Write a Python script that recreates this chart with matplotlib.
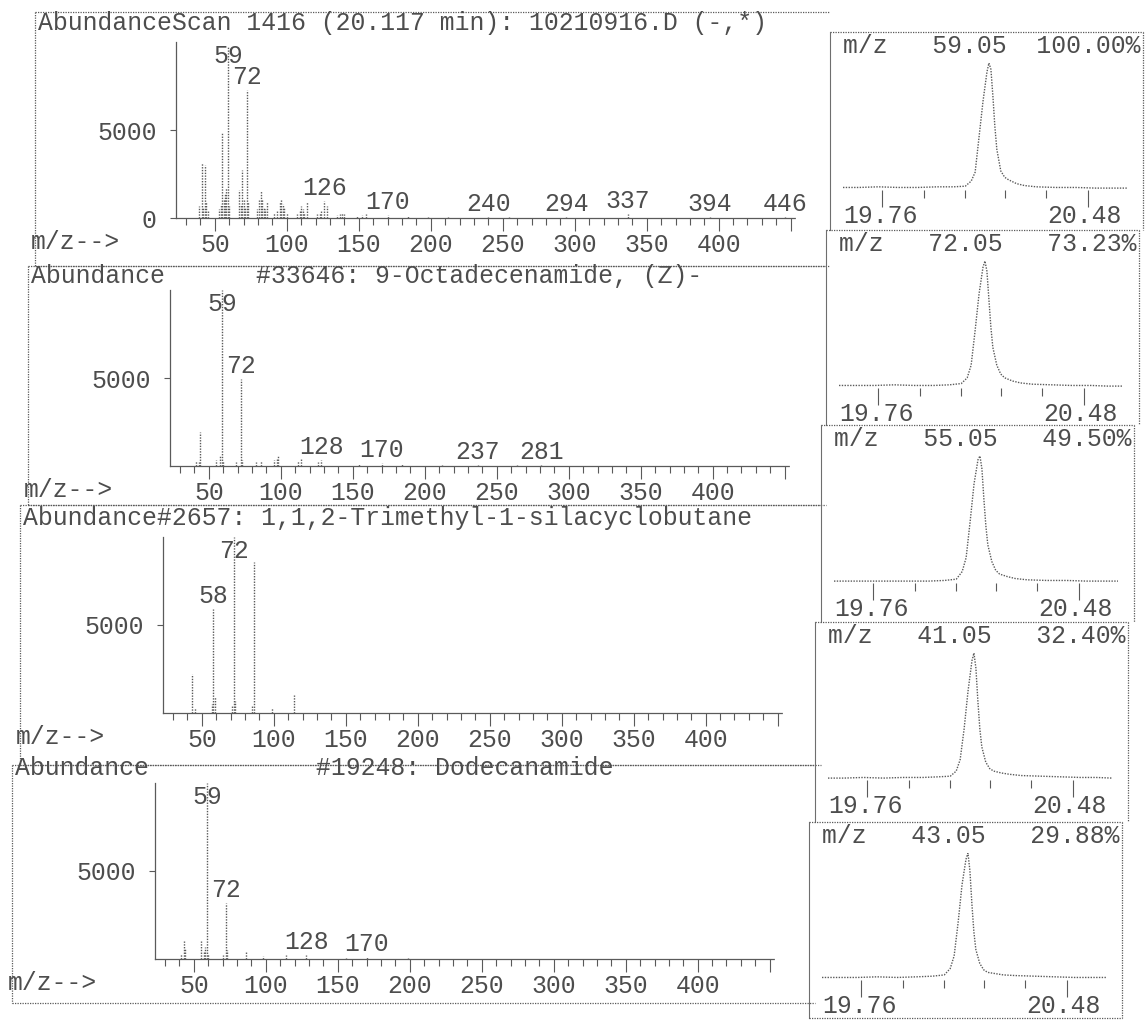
import matplotlib
matplotlib.use('Agg')

import matplotlib.pyplot as plt
from matplotlib.lines import Line2D
from matplotlib.ticker import FixedLocator, FuncFormatter, MultipleLocator, NullFormatter

W, H = 1147, 1023
DPI = 100
FS = 17.8
INK = '#4d4d4d'
PEN = '#5a5a5a'
DOTS = (0, (1, 1))

plt.rcParams['font.family'] = ['Liberation Mono', 'DejaVu Sans Mono']
plt.rcParams['font.size'] = FS
plt.rcParams['text.color'] = INK

MZ_RANGE = (23, 453)
AB_MAX = 10000
RT_RANGE = (19.76, 20.48)

# sample spectrum at the apex
scan_title = 'Scan 1416 (20.117 min): 10210916.D (-,*)'
scan_mz = [39, 41, 42, 43, 44, 45, 53, 54, 55, 56, 57, 58, 59, 60,
           67, 68, 69, 70, 71, 72, 73, 79, 81, 82, 83, 84, 85, 86,
           91, 93, 95, 96, 97, 98, 100, 107, 109, 110, 111, 112, 114,
           121, 123, 124, 126, 128, 135, 137, 138, 140, 149, 152, 155,
           170, 184, 198, 212, 240, 254, 294, 337, 394, 446]
scan_ab = [700, 3100, 600, 3000, 900, 400, 500, 800, 4900, 1100, 1400, 1700, 9800, 700,
           1600, 800, 2700, 1000, 600, 7300, 900, 500, 1000, 1550, 1100, 600, 500, 900,
           300, 400, 900, 1100, 800, 600, 300, 250, 400, 700, 500, 300, 900,
           200, 300, 450, 980, 700, 150, 200, 300, 250, 120, 150, 200,
           160, 100, 80, 60, 60, 50, 60, 250, 40, 40]
scan_labels = [59, 72, 126, 170, 240, 294, 337, 394, 446]

# library hits
hit1_title = '#33646: 9-Octadecenamide, (Z)-'
hit1_mz = [41, 43, 44, 55, 58, 59, 60, 69, 72, 73, 83, 86, 95, 97, 98,
           112, 114, 126, 128, 154, 170, 184, 212, 237, 264, 281]
hit1_ab = [300, 250, 1950, 350, 650, 9990, 300, 200, 4930, 350, 250, 300, 350, 450, 550,
           300, 420, 250, 330, 120, 150, 100, 80, 70, 60, 80]
hit1_labels = [59, 72, 128, 170, 237, 281]

hit2_title = '#2657: 1,1,2-Trimethyl-1-silacyclobutane'
hit2_mz = [43, 45, 57, 58, 59, 71, 72, 73, 85, 86, 99, 114]
hit2_ab = [2200, 300, 500, 5900, 900, 400, 9990, 700, 450, 8600, 300, 1050]
hit2_labels = [72, 58]

hit3_title = '#19248: Dodecanamide'
hit3_mz = [41, 43, 44, 55, 57, 58, 59, 60, 70, 72, 73, 86, 98, 114, 128, 156, 170, 199]
hit3_ab = [300, 1000, 600, 1000, 400, 700, 9990, 300, 250, 3200, 500, 420, 150, 230, 250, 80, 120, 50]
hit3_labels = [59, 72, 128, 170]

# extracted ion chromatograms (percent of each trace's maximum)
eic_time = [19.76, 19.80, 19.85, 19.90, 19.95, 20.00, 20.04, 20.07, 20.085, 20.095,
            20.105, 20.115, 20.125, 20.13, 20.135, 20.14, 20.145, 20.15, 20.16, 20.17,
            20.18, 20.20, 20.22, 20.25, 20.30, 20.35, 20.40, 20.44, 20.48]
eic_mz = [59.05, 72.05, 55.05, 41.05, 43.05]
eic_pct = [100.00, 73.23, 49.50, 32.40, 29.88]
eic_59 = [2, 2, 2.5, 2, 2, 2.5, 2.5, 3, 7, 14, 42, 70, 93, 100, 95, 74, 50, 32, 15, 10,
          8, 5, 3.5, 2.5, 2, 2, 1.5, 1.5, 1.5]
eic_72 = [2, 2, 2, 2.5, 2, 2, 2.5, 3.5, 8, 18, 45, 74, 95, 100, 92, 70, 48, 32, 18, 11,
          8, 5.5, 4, 3, 2.5, 2, 2, 1.5, 1.5]
eic_55 = [1.5, 1.5, 1.5, 1.5, 1.5, 1.5, 2, 3, 9, 20, 48, 78, 97, 100, 90, 66, 45, 30, 17, 10,
          7, 5, 3.5, 2.5, 2, 2, 1.5, 1.5, 1.5]
eic_41 = [1.5, 1.5, 2, 1.5, 2, 2, 2.5, 3, 7, 16, 40, 70, 94, 100, 88, 62, 40, 26, 14, 9,
          7, 5.5, 4.5, 3.5, 3, 2.5, 2, 2, 1.5]
eic_43 = [2, 2, 2, 2.5, 2, 2.5, 3, 4, 9, 19, 45, 75, 95, 100, 86, 60, 38, 24, 13, 8,
          6, 5, 4, 3.5, 3, 2.5, 2, 2, 2]
eic_ticks = [19.86, 19.965, 20.07, 20.17, 20.275, 20.38]

CHAR_W = 0.6 * FS * DPI / 72
SPEC_W, SPEC_H = 619, 176
EIC_W, EIC_H = 284, 127

fig = plt.figure(figsize=(W / DPI, H / DPI), dpi=DPI)


def fx(x):
    return x / W


def fy(y):
    return 1 - y / H


def rule(x0, y0, x1, y1, ls=DOTS, color=PEN, lw=0.9):
    fig.add_artist(Line2D([fx(x0), fx(x1)], [fy(y0), fy(y1)],
                          transform=fig.transFigure, color=color, lw=lw, ls=ls))


def axes_px(left, top, width, height):
    ax = fig.add_axes([fx(left), fy(top + height), width / W, height / H])
    ax.set_facecolor('none')
    return ax


def spectrum(frame, title, mz, ab, labels, title_left, show_zero):
    left, top, bottom, right, ax_left, ax_top, abund_y = frame
    rule(left, top, right, top)
    rule(left, top, left, bottom)
    rule(left, bottom, right, bottom)

    ax = axes_px(ax_left, ax_top, SPEC_W, SPEC_H)
    ax.vlines(mz, 0, ab, colors=PEN, linewidth=1.0, linestyles=DOTS)
    ax.set_xlim(*MZ_RANGE)
    ax.set_ylim(0, AB_MAX)
    for side in ('top', 'right'):
        ax.spines[side].set_visible(False)
    for side in ('left', 'bottom'):
        ax.spines[side].set_color(PEN)
        ax.spines[side].set_linestyle(DOTS)
        ax.spines[side].set_linewidth(0.9)

    ax.xaxis.set_major_locator(FixedLocator(list(range(50, 451, 50))))
    ax.xaxis.set_major_formatter(FuncFormatter(lambda v, p: f'{v:.0f}' if v <= 400 else ''))
    ax.xaxis.set_minor_locator(MultipleLocator(10))
    ax.tick_params(axis='x', which='major', length=9, width=0.8, color=PEN,
                   pad=2, labelsize=FS, labelcolor=INK)
    ax.tick_params(axis='x', which='minor', length=5, width=0.8, color=PEN)
    ax.set_yticks([0, 5000] if show_zero else [5000])
    ax.tick_params(axis='y', length=4, width=0.8, color=PEN, pad=10,
                   labelsize=FS, labelcolor=INK)

    # peak labels sit just above the bar, pushed down when they hit the top
    for m in labels:
        h = ab[mz.index(m)]
        base_px = min(h * SPEC_H / AB_MAX + 6, SPEC_H - 21)
        ax.annotate(str(m), xy=(m, 0), xytext=(0, base_px * 72 / DPI),
                    textcoords='offset points', ha='center', va='baseline',
                    fontsize=FS, color=INK)

    fig.text(fx(left + 3), fy(abund_y), 'Abundance', ha='left', va='center')
    if title_left:
        fig.text(fx(left + 3 + 9 * CHAR_W), fy(abund_y), title, ha='left', va='center')
    else:
        fig.text(fx(ax_left + SPEC_W / 2), fy(abund_y), title, ha='center', va='center')
    fig.text(fx(left - 4), fy(ax_top + SPEC_H + 24), 'm/z-->', ha='left', va='center')


def chromatogram(left, top, bottom, mz, pct, values, last):
    right = left + 313
    rule(left, top, right, top)
    rule(left, top, left, bottom, ls='-', color='#6e6e6e', lw=0.8)
    rule(right, top, right, bottom)
    if last:
        rule(left, bottom, right, bottom)

    fig.text(fx(left + 13), fy(top + 14), f'm/z   {mz:5.2f}  {pct:6.2f}%',
             ha='left', va='center')

    ax = axes_px(left + 13, top + 31, EIC_W, EIC_H)
    ax.plot(eic_time, values, color=PEN, lw=1.0, ls=DOTS)
    ax.set_xlim(*RT_RANGE)
    ax.set_ylim(0, 100)
    for side in ax.spines.values():
        side.set_visible(False)
    ax.yaxis.set_visible(False)
    ax.xaxis.set_major_locator(FixedLocator([eic_ticks[0], eic_ticks[-1]]))
    ax.xaxis.set_minor_locator(FixedLocator(eic_ticks[1:-1]))
    ax.xaxis.set_major_formatter(NullFormatter())
    ax.tick_params(axis='x', which='major', length=12, width=0.8, color=PEN)
    ax.tick_params(axis='x', which='minor', length=6, width=0.8, color=PEN)
    ax.text(0, -26 / EIC_H, f'{RT_RANGE[0]:.2f}', transform=ax.transAxes,
            ha='left', va='center')
    ax.text(0.98, -26 / EIC_H, f'{RT_RANGE[1]:.2f}', transform=ax.transAxes,
            ha='right', va='center')


# left column: frame (left, top, bottom, right), axes origin, header row
spectrum((35, 12, 266, 830, 176, 42, 23), scan_title,
         scan_mz, scan_ab, scan_labels, True, True)
spectrum((28, 266, 505, 826, 170, 290, 276), hit1_title,
         hit1_mz, hit1_ab, hit1_labels, False, False)
spectrum((20, 505, 765, 821, 163, 537, 518), hit2_title,
         hit2_mz, hit2_ab, hit2_labels, True, False)
spectrum((12, 765, 1003, 815, 155, 783, 768), hit3_title,
         hit3_mz, hit3_ab, hit3_labels, False, False)

# right column: ion chromatograms
eic_left = [830, 826, 821, 815, 809]
eic_edges = [32, 230, 425, 622, 822, 1018]
eic_traces = [eic_59, eic_72, eic_55, eic_41, eic_43]
for i, trace in enumerate(eic_traces):
    chromatogram(eic_left[i], eic_edges[i], eic_edges[i + 1],
                 eic_mz[i], eic_pct[i], trace, i == len(eic_traces) - 1)

fig.savefig('out.png', dpi=DPI, facecolor='white')
